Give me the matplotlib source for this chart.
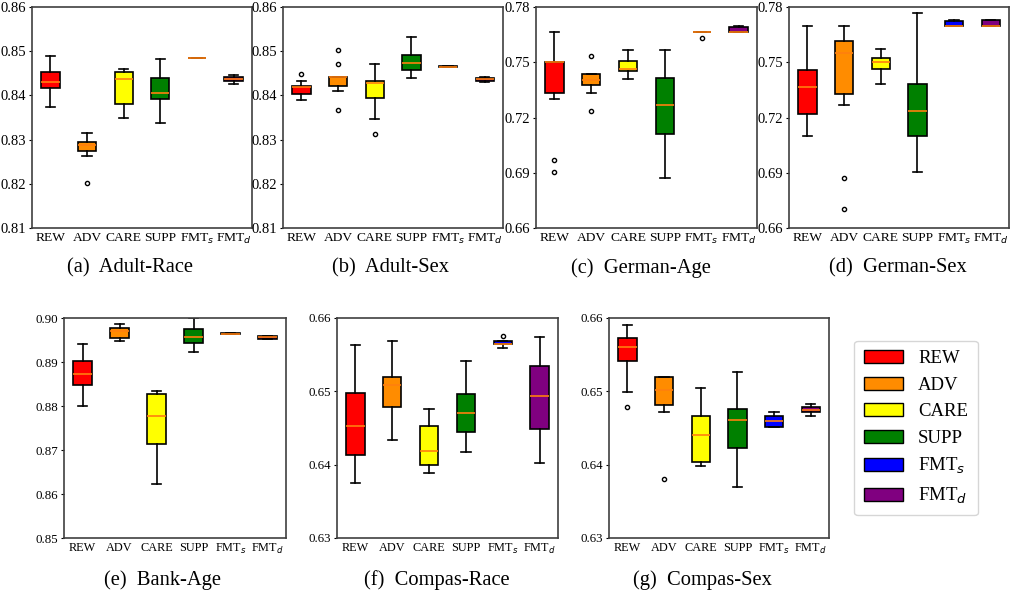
import matplotlib
matplotlib.use('Agg')
import matplotlib.pyplot as plt
from matplotlib.patches import Patch

methods = ['REW', 'ADV', 'CARE', 'SUPP', r'FMT$_s$', r'FMT$_d$']
colors = ['red', 'darkorange', 'yellow', 'green', 'blue', 'purple']

# each row: [whislo, q1, med, q3, whishi] per method
adult_race = [[0.8373, 0.8417, 0.8430, 0.8453, 0.8490],
              [0.8264, 0.8275, 0.8288, 0.8294, 0.8316],
              [0.8348, 0.8381, 0.8436, 0.8452, 0.8460],
              [0.8338, 0.8391, 0.8406, 0.8439, 0.8482],
              [0.8484, 0.8484, 0.8485, 0.8485, 0.8485],
              [0.8425, 0.8433, 0.8437, 0.8441, 0.8447]]
adult_race_fliers = [[], [0.8201], [], [], [], []]

adult_sex = [[0.8390, 0.8403, 0.8419, 0.8421, 0.8433],
             [0.8411, 0.8422, 0.8441, 0.8442, 0.8442],
             [0.8347, 0.8394, 0.8427, 0.8433, 0.8470],
             [0.8440, 0.8457, 0.8473, 0.8491, 0.8532],
             [0.8464, 0.8464, 0.8465, 0.8466, 0.8466],
             [0.8430, 0.8433, 0.8437, 0.8440, 0.8442]]
adult_sex_fliers = [[0.8449], [0.8503, 0.8471, 0.8366], [0.8313], [], [], []]

german_age = [[0.7300, 0.7335, 0.7500, 0.7500, 0.7666],
              [0.7335, 0.7377, 0.7402, 0.7434, 0.7434],
              [0.7407, 0.7451, 0.7465, 0.7507, 0.7567],
              [0.6870, 0.7110, 0.7268, 0.7416, 0.7567],
              [0.7666, 0.7666, 0.7666, 0.7666, 0.7666],
              [0.7666, 0.7666, 0.7666, 0.7690, 0.7699]]
german_age_fliers = [[0.6969, 0.6902], [0.7534, 0.7235], [], [], [0.7633], []]

german_sex = [[0.7101, 0.7219, 0.7367, 0.7458, 0.7699],
              [0.7268, 0.7326, 0.7552, 0.7615, 0.7699],
              [0.7382, 0.7465, 0.7503, 0.7521, 0.7572],
              [0.6902, 0.7101, 0.7235, 0.7384, 0.7766],
              [0.7699, 0.7699, 0.7699, 0.7724, 0.7731],
              [0.7699, 0.7699, 0.7699, 0.7731, 0.7731]]
german_sex_fliers = [[], [0.6870, 0.6703], [], [], [], []]

bank_age = [[0.8801, 0.8847, 0.8873, 0.8902, 0.8942],
            [0.8948, 0.8954, 0.8971, 0.8977, 0.8987],
            [0.8623, 0.8713, 0.8778, 0.8828, 0.8835],
            [0.8922, 0.8944, 0.8957, 0.8976, 0.9000],
            [0.8963, 0.8963, 0.8964, 0.8967, 0.8967],
            [0.8953, 0.8953, 0.8957, 0.8958, 0.8958]]
bank_age_fliers = [[], [], [], [], [], []]

compas_race = [[0.6375, 0.6413, 0.6453, 0.6498, 0.6563],
               [0.6434, 0.6479, 0.6509, 0.6519, 0.6569],
               [0.6388, 0.6400, 0.6418, 0.6453, 0.6476],
               [0.6417, 0.6445, 0.6470, 0.6497, 0.6542],
               [0.6559, 0.6564, 0.6564, 0.6568, 0.6569],
               [0.6402, 0.6449, 0.6493, 0.6535, 0.6574]]
compas_race_fliers = [[], [], [], [], [0.6575], []]

compas_sex = [[0.6499, 0.6541, 0.6560, 0.6573, 0.6591],
              [0.6472, 0.6481, 0.6502, 0.6519, 0.6520],
              [0.6398, 0.6404, 0.6440, 0.6467, 0.6504],
              [0.6369, 0.6423, 0.6461, 0.6476, 0.6526],
              [0.6451, 0.6452, 0.6459, 0.6467, 0.6472],
              [0.6467, 0.6472, 0.6475, 0.6478, 0.6483]]
compas_sex_fliers = [[0.6478], [0.6380], [], [], [], []]

panels = [
    (adult_race, adult_race_fliers, [0.81, 0.82, 0.83, 0.84, 0.85, 0.86], '(a)  Adult-Race'),
    (adult_sex, adult_sex_fliers, [0.81, 0.82, 0.83, 0.84, 0.85, 0.86], '(b)  Adult-Sex'),
    (german_age, german_age_fliers, [0.66, 0.69, 0.72, 0.75, 0.78], '(c)  German-Age'),
    (german_sex, german_sex_fliers, [0.66, 0.69, 0.72, 0.75, 0.78], '(d)  German-Sex'),
    (bank_age, bank_age_fliers, [0.85, 0.86, 0.87, 0.88, 0.89, 0.90], '(e)  Bank-Age'),
    (compas_race, compas_race_fliers, [0.63, 0.64, 0.65, 0.66], '(f)  Compas-Race'),
    (compas_sex, compas_sex_fliers, [0.63, 0.64, 0.65, 0.66], '(g)  Compas-Sex'),
]

# axes boxes in pixels: left, right, top, bottom ; caption x, y
W, H = 1014, 598
boxes = [(32, 252, 7, 228), (283, 503, 7, 228), (536, 757, 7, 228), (789, 1009, 7, 228),
         (64, 286, 318, 538), (337, 558, 318, 538), (609, 829, 318, 538)]
captions = [(130, 268), (390, 268), (641, 268), (898, 268),
            (162, 580), (437, 580), (702, 580)]

plt.rcParams['font.family'] = ['Liberation Serif', 'DejaVu Serif']
plt.rcParams['mathtext.fontset'] = 'dejavusans'

fig = plt.figure(figsize=(W / 100, H / 100), dpi=100)

for i, (vals, fl, ticks, title) in enumerate(panels):
    l, r, t, b = boxes[i]
    ax = fig.add_axes([l / W, 1 - b / H, (r - l) / W, (b - t) / H])
    stats = []
    for v, f in zip(vals, fl):
        stats.append(dict(whislo=v[0], q1=v[1], med=v[2], q3=v[3], whishi=v[4], fliers=f))
    bp = ax.bxp(stats, patch_artist=True, widths=0.5,
                boxprops=dict(edgecolor='black', linewidth=1.2),
                whiskerprops=dict(color='black', linewidth=1.2),
                capprops=dict(color='black', linewidth=1.2),
                medianprops=dict(color='#ff7f0e', linewidth=1.2),
                flierprops=dict(marker='o', markersize=3, markerfacecolor='none',
                                markeredgecolor='black', markeredgewidth=1))
    for patch, c in zip(bp['boxes'], colors):
        patch.set_facecolor(c)
    ax.set_ylim(ticks[0], ticks[-1])
    ax.set_yticks(ticks)
    ax.set_yticklabels(['%.2f' % v for v in ticks])
    ax.set_xticks(range(1, 7))
    if i < 4:
        xfs, yfs = 9.7, 10.5
    else:
        xfs, yfs = 8.8, 9.3
    ax.set_xticklabels(methods, fontsize=xfs)
    ax.tick_params(axis='y', labelsize=yfs, length=2, pad=2)
    ax.tick_params(axis='x', length=0, pad=3)
    for s in ax.spines.values():
        s.set_color('#404040')
        s.set_linewidth(1.2)
    fig.text(captions[i][0] / W, 1 - captions[i][1] / H, title, fontsize=14.8,
             ha='center', va='center')

handles = [Patch(facecolor=c, edgecolor='black', label=m) for c, m in zip(colors, methods)]
fig.legend(handles=handles, loc='center', bbox_to_anchor=(916 / W, 1 - 428 / H),
           fontsize=13.5, handlelength=2.1, handleheight=0.7, labelspacing=0.5,
           handletextpad=0.8, borderpad=0.5, borderaxespad=0, frameon=True,
           fancybox=True, edgecolor='#cccccc')

fig.savefig('out.png', dpi=100)
